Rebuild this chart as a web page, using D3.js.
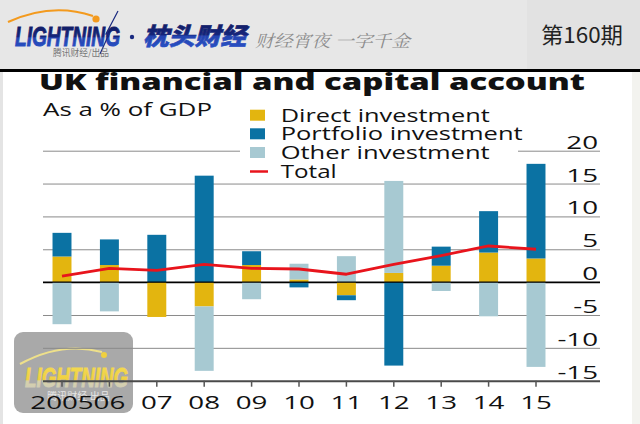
<!DOCTYPE html>
<html><head><meta charset="utf-8">
<script src="https://cdn.jsdelivr.net/npm/d3@7"></script>
<style>body{margin:0;background:#fff}svg{display:block}</style>
</head><body><svg id="c" width="640" height="424"></svg>
<script>
// ---- data ----
const years = ["2005","06","07","08","09","10","11","12","13","14","15"];
const direct    = [3.9, 2.6, -5.3, -3.7, 2.6, 0.4, -2.0, 1.4, 2.5, 4.5, 3.6];
const portfolio = [3.6, 3.9, 7.2, 16.2, 2.1, -0.8, -0.75, -12.7, 2.9, 6.3, 14.4];
const other     = [-6.4, -4.45, 0, -9.8, -2.6, 2.4, 3.95, 14.0, -1.35, -5.2, -12.9];
const total     = [0.9, 2.1, 1.8, 2.7, 2.1, 2.0, 1.2, 2.7, 4.05, 5.5, 5.0];
const yTicks = [-15, -10, -5, 0, 5, 10, 15, 20];
const seriesKeys = ["direct", "portfolio", "other"];
const seriesNames = ["Direct investment", "Portfolio investment", "Other investment"];
const totalName = "Total";
const titleText = "UK financial and capital account";
const subtitleText = "As a % of GDP";
const colors = ["#e3b50f", "#0b72a3", "#a7c9d2"];
const totalColor = "#e8141c";

const svg = d3.select("#c");
const FONT = "'Open Sans', 'DejaVu Sans', sans-serif";
const CJK = "'Noto Sans CJK SC', sans-serif";

function fitW(sel, w) { sel.attr("textLength", w).attr("lengthAdjust", "spacingAndGlyphs"); }
function stretch(sel, k) {
  sel.each(function () {
    const w = this.getComputedTextLength();
    d3.select(this).attr("textLength", w * k).attr("lengthAdjust", "spacingAndGlyphs");
  });
}

// ---- background ----
svg.append("rect").attr("width", 640).attr("height", 424).attr("fill", "#fff");
svg.append("rect").attr("x", 0).attr("y", 72).attr("width", 3).attr("height", 352).attr("fill", "#e4e4e4");
svg.append("rect").attr("x", 632).attr("y", 72).attr("width", 8).attr("height", 352).attr("fill", "#f3f3ef");

// ---- header ----
svg.append("rect").attr("x", 0).attr("y", 0).attr("width", 527).attr("height", 70).attr("fill", "#e7e7e7");
svg.append("rect").attr("x", 527).attr("y", 0).attr("width", 113).attr("height", 70).attr("fill", "#e2e2e2");
svg.append("rect").attr("x", 0).attr("y", 69).attr("width", 640).attr("height", 3).attr("fill", "#000");

const defs = svg.append("defs");
const g1 = defs.append("linearGradient").attr("id", "navy").attr("x1", 0).attr("y1", 0).attr("x2", 0).attr("y2", 1);
g1.append("stop").attr("offset", "0%").attr("stop-color", "#0f1a5c");
g1.append("stop").attr("offset", "50%").attr("stop-color", "#15257a");
g1.append("stop").attr("offset", "55%").attr("stop-color", "#2444b0");
g1.append("stop").attr("offset", "100%").attr("stop-color", "#2a55cc");
const g2 = defs.append("linearGradient").attr("id", "gold").attr("x1", 0).attr("y1", 0).attr("x2", 0).attr("y2", 1);
g2.append("stop").attr("offset", "0%").attr("stop-color", "#f4dc55");
g2.append("stop").attr("offset", "55%").attr("stop-color", "#f0d040");
g2.append("stop").attr("offset", "60%").attr("stop-color", "#d9d2a8");
g2.append("stop").attr("offset", "100%").attr("stop-color", "#c8c8c0");

svg.append("path").attr("d", "M8,22 Q52,2 93,16").attr("fill", "none").attr("stroke", "#f39a1e").attr("stroke-width", 2.2);
svg.append("circle").attr("cx", 96).attr("cy", 19).attr("r", 3.6).attr("fill", "#f39a1e");
svg.append("text").attr("x", 15).attr("y", 46).text("LIGHTNING")
  .attr("font-family", "'Liberation Sans', Arial, sans-serif").attr("font-weight", "bold").attr("font-style", "italic")
  .attr("font-size", 28).attr("fill", "url(#navy)").attr("stroke", "url(#navy)").attr("stroke-width", 1)
  .call(fitW, 105);
svg.append("path").attr("d", "M118,11 L106,34 L109,34 L100,54").attr("fill", "none").attr("stroke", "#1a2a80").attr("stroke-width", 1.2);
svg.append("text").attr("x", 53).attr("y", 56).text("腾讯财经/出品")
  .attr("font-family", CJK).attr("font-size", 9).attr("fill", "#777").call(fitW, 56);
svg.append("circle").attr("cx", 132).attr("cy", 37).attr("r", 2.2).attr("fill", "#1a2a80");
svg.append("text").attr("x", 143).attr("y", 45).text("枕头财经")
  .attr("font-family", CJK).attr("font-weight", 900).attr("font-style", "italic")
  .attr("font-size", 24).attr("fill", "url(#navy)").attr("stroke", "url(#navy)").attr("stroke-width", 0.6)
  .call(fitW, 103);
svg.append("text").attr("x", 255).attr("y", 47).text("财经宵夜 一字千金")
  .attr("font-family", "'Noto Serif CJK SC', " + CJK).attr("font-style", "italic")
  .attr("font-size", 17).attr("fill", "#8c8c8c").call(fitW, 155);
svg.append("text").attr("x", 582).attr("y", 43).attr("text-anchor", "middle").text("第160期")
  .attr("font-family", CJK).attr("font-size", 22).attr("fill", "#222").call(fitW, 82);

// ---- watermark (under chart) ----
svg.append("rect").attr("x", 14).attr("y", 332).attr("width", 119).attr("height", 81).attr("rx", 9).attr("fill", "#a9a9a9");
svg.append("path").attr("d", "M20,364 Q62,341 102,352").attr("fill", "none").attr("stroke", "#eee08a").attr("stroke-width", 2);
svg.append("circle").attr("cx", 104).attr("cy", 355).attr("r", 3).attr("fill", "#f0d040");
svg.append("text").attr("x", 25).attr("y", 387).text("LIGHTNING")
  .attr("font-family", "'Liberation Sans', Arial, sans-serif").attr("font-weight", "bold").attr("font-style", "italic")
  .attr("font-size", 27).attr("fill", "url(#gold)").attr("stroke", "url(#gold)").attr("stroke-width", 0.8)
  .call(fitW, 103);
svg.append("text").attr("x", 47).attr("y", 400).text("腾讯财经 出品")
  .attr("font-family", CJK).attr("font-size", 10).attr("fill", "#e6e6e6").call(fitW, 63);

// ---- scales ----
const x = d3.scaleBand().domain(years).range([38.3, 559.7]).paddingInner(0.6).paddingOuter(0.3);
const y = d3.scaleLinear().domain([-15, 20]).range([380.7, 150.7]);

// ---- gridlines ----
const grid = svg.append("g").attr("transform", "translate(600,0)")
  .call(d3.axisLeft(y).tickValues(yTicks).tickSize(557).tickFormat(""));
grid.select(".domain").remove();
grid.selectAll(".tick line")
  .attr("stroke", d => d === 0 ? "#000" : d === -15 ? "#4a4a4a" : "#8a8a8a")
  .attr("stroke-width", d => d === -15 ? 2 : d === 0 ? 1.3 : 1);

// ---- title ----
svg.append("text").attr("x", 39).attr("y", 90).text(titleText)
  .attr("font-family", FONT).attr("font-weight", 800).attr("font-size", 23.5).attr("fill", "#111").call(fitW, 546);
svg.append("text").attr("x", 43).attr("y", 116).text(subtitleText)
  .attr("font-family", FONT).attr("font-size", 18.6).attr("fill", "#111").call(fitW, 169);

// ---- legend ----
svg.append("rect").attr("x", 240).attr("y", 100).attr("width", 278).attr("height", 78).attr("fill", "#fff");
const legY = [121.7, 140.3, 159, 177.5];
const legW = [209, 242, 209, 56];
const leg = svg.append("g");
seriesNames.forEach((n, i) => {
  leg.append("rect").attr("x", 250).attr("y", legY[i] - 12).attr("width", 15).attr("height", 11).attr("fill", colors[i]);
  leg.append("text").attr("x", 280.7).attr("y", legY[i]).text(n)
    .attr("font-family", FONT).attr("font-size", 18.6).attr("fill", "#111").call(fitW, legW[i]);
});
leg.append("line").attr("x1", 250).attr("x2", 268).attr("y1", legY[3] - 6).attr("y2", legY[3] - 6)
  .attr("stroke", totalColor).attr("stroke-width", 2.5);
leg.append("text").attr("x", 280.7).attr("y", legY[3]).text(totalName)
  .attr("font-family", FONT).attr("font-size", 18.6).attr("fill", "#111").call(fitW, legW[3]);

// ---- bars ----
const rows = years.map((yr, i) => ({ year: yr, direct: direct[i], portfolio: portfolio[i], other: other[i] }));
const stacked = d3.stack().keys(seriesKeys).offset(d3.stackOffsetDiverging)(rows);
svg.append("g").selectAll("g").data(stacked).join("g")
  .attr("fill", (d, i) => colors[i])
  .selectAll("rect").data(d => d).join("rect")
  .attr("x", d => x(d.data.year))
  .attr("width", x.bandwidth())
  .attr("y", d => y(Math.max(d[0], d[1])))
  .attr("height", d => Math.abs(y(d[0]) - y(d[1])));

// zero line over bars
svg.append("line").attr("x1", 43).attr("x2", 600).attr("y1", y(0)).attr("y2", y(0))
  .attr("stroke", "#000").attr("stroke-width", 1.3);

// ---- total line ----
svg.append("path").datum(total)
  .attr("d", d3.line().x((d, i) => x(years[i]) + x.bandwidth() / 2).y(d => y(d)))
  .attr("fill", "none").attr("stroke", totalColor).attr("stroke-width", 2.8).attr("stroke-linejoin", "round");

// ---- y labels ----
const yl = svg.append("g").attr("transform", "translate(598,0)")
  .call(d3.axisLeft(y).tickValues(yTicks).tickSize(0).tickPadding(0).tickFormat(d => String(d).replace("−", "-")));
yl.select(".domain").remove();
yl.selectAll("text").attr("dy", -2.5).attr("x", 0)
  .attr("font-family", FONT).attr("font-size", 18.6).attr("fill", "#111");

// ---- x axis ----
const xa = svg.append("g").attr("transform", `translate(0,${y(-15)})`)
  .call(d3.axisBottom(x).tickSize(6).tickSizeOuter(0));
xa.select(".domain").remove();
xa.selectAll(".tick line").attr("stroke", "#555").attr("stroke-width", 1.5);
xa.selectAll("text").attr("y", 28.3).attr("dy", 0)
  .attr("font-family", FONT).attr("font-size", 18.6).attr("fill", "#111");

// horizontal stretch of numerals to match reference
(function () {
  const probe = xa.selectAll("text").filter(d => d === "07").node();
  const k = 31.7 / probe.getComputedTextLength();
  stretch(xa.selectAll("text"), k);
  stretch(yl.selectAll("text"), k);
})();
</script></body></html>
